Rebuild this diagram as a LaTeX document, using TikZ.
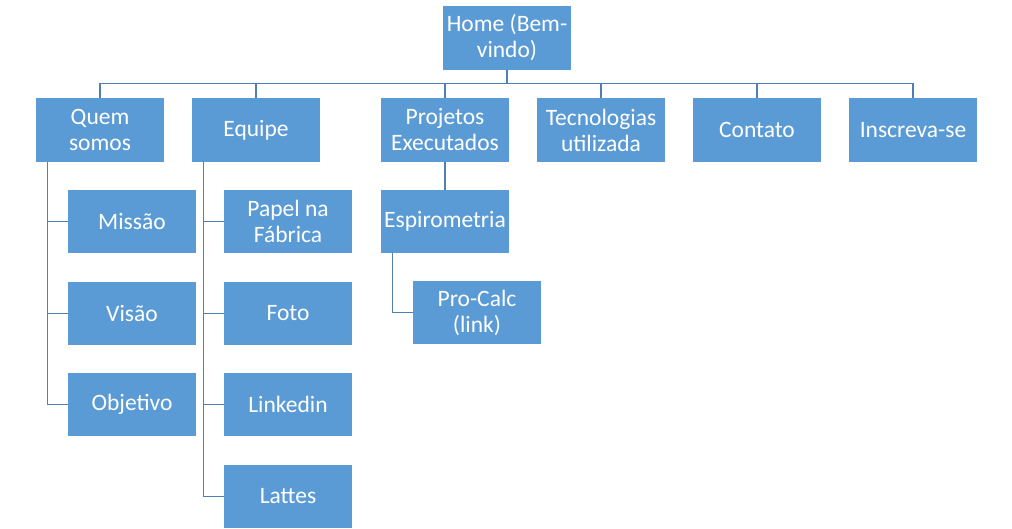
\documentclass[tikz,border=0pt]{standalone}
\usepackage{fontspec}
\setmainfont{Carlito}
\definecolor{boxfill}{HTML}{5B9BD5}
\definecolor{linec}{HTML}{4F7FB5}
\begin{document}
\begin{tikzpicture}[x=1pt,y=-1pt,
  pbox/.style={fill=boxfill,draw=none,minimum width=128pt,minimum height=63.5pt,inner sep=0pt,
    text=white,align=center,font=\fontsize{23.5}{26}\selectfont},
  conn/.style={draw=linec,line width=1.1pt}]
\useasboundingbox (0,0) rectangle (1012,529);
\node[pbox] (home) at (507,38) {Home (Bem-\\vindo)};
\node[pbox] (quem) at (100,130) {Quem\\somos};
\node[pbox] (equipe) at (256,130) {Equipe};
\node[pbox] (proj) at (445,130) {Projetos\\Executados};
\node[pbox] (tec) at (601,130) {Tecnologias\\utilizada};
\node[pbox] (cont) at (757,130) {Contato};
\node[pbox] (insc) at (913,130) {Inscreva-se};
\node[pbox] (missao) at (132,221.5) {Missão};
\node[pbox] (visao) at (132,313.5) {Visão};
\node[pbox] (obj) at (132,404.5) {Objetivo};
\node[pbox] (papel) at (288,221.5) {Papel na\\Fábrica};
\node[pbox] (foto) at (288,313.5) {Foto};
\node[pbox] (link) at (288,404.5) {Linkedin};
\node[pbox] (lattes) at (288,496.5) {Lattes};
\node[pbox] (espiro) at (445,221.5) {Espirometria};
\node[pbox] (pro) at (477,312.5) {Pro-Calc\\(link)};
\foreach \c in {quem,equipe,proj,tec,cont,insc}
  \draw[conn] (home.south) -- ++(0,14) -| (\c.north);
\foreach \c in {missao,visao,obj}
  \draw[conn] (quem.south west) ++(12,0) |- (\c.west);
\foreach \c in {papel,foto,link,lattes}
  \draw[conn] (equipe.south west) ++(12,0) |- (\c.west);
\draw[conn] (proj.south) -- (espiro.north);
\draw[conn] (espiro.south west) ++(12,0) |- (pro.west);
\end{tikzpicture}
\end{document}
